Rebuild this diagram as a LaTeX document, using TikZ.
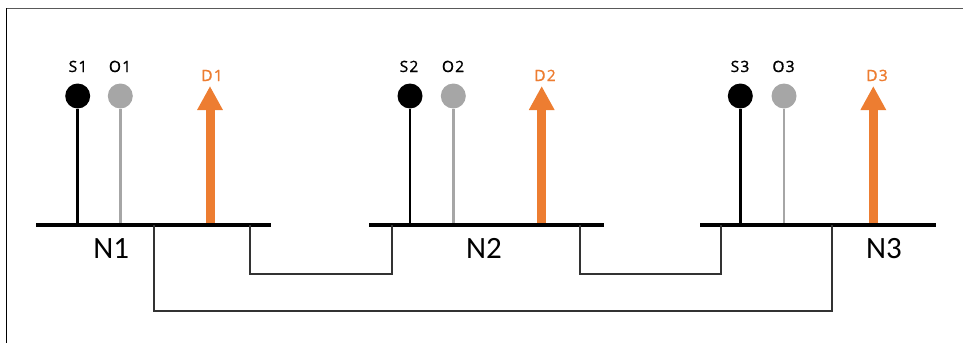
\documentclass[tikz,border=0pt]{standalone}
\usepackage{fontspec}
\setmainfont{Open Sans}
\newfontfamily\tagfont[FakeBold=1.2,LetterSpace=8]{Open Sans}
\newfontfamily\netfont{Carlito}
\usetikzlibrary{arrows.meta}
\definecolor{demand}{HTML}{ED7D31}
\definecolor{other}{HTML}{A6A6A6}
\definecolor{wire}{HTML}{333333}
\definecolor{frameline}{HTML}{595959}

\begin{document}
\begin{tikzpicture}[x=1pt, y=-1pt,
    bus/.style={line width=4.3pt, black},
    pin/.style={circle, minimum size=25pt, inner sep=0pt},
    stem/.style={line width=2.5pt},
    tag/.style={font=\tagfont\fontsize{15.5}{17}\selectfont, inner sep=0pt, anchor=base},
    demandarrow/.style={demand, line width=9pt, -{Triangle[width=24pt,length=24pt]}},
    link/.style={line width=1.7pt, wire},
    netname/.style={font=\netfont\fontsize{31}{34}\selectfont, inner sep=0pt, anchor=base}
]
    \useasboundingbox (0,0) rectangle (963,343);
    % frame
    \draw[line width=1.8pt, frameline] (6,8.5) -- (963,8.5);
    \draw[line width=1.8pt] (6.5,8) -- (6.5,343);

    % N1
    \coordinate (n1w) at (36,225);
    \coordinate (n1e) at (271,225);
    \coordinate (s1b) at (77.7,225);
    \coordinate (o1b) at (120.3,225);
    \coordinate (d1b) at (210,225);
    \coordinate (d1t) at (210,86);
    \node[pin, fill=black] (s1) at (77.7,96) {};
    \node[pin, fill=other] (o1) at (120.3,96) {};
    \draw[stem] (s1b) -- (s1);
    \draw[stem, other] (o1b) -- (o1);
    \draw[demandarrow] (d1b) -- (d1t);
    \draw[bus] (n1w) -- (n1e);
    \node[tag] (s1l) at (78,72) {S1};
    \node[tag] (o1l) at (120,72) {O1};
    \node[tag, demand] (d1l) at (212,81) {D1};
    \node[netname] (n1) at (111.3,258) {N1};

    % N2
    \coordinate (n2w) at (369,225);
    \coordinate (n2e) at (604.3,225);
    \coordinate (s2b) at (410,225);
    \coordinate (o2b) at (453.3,225);
    \coordinate (d2b) at (541.7,225);
    \coordinate (d2t) at (541.7,86);
    \node[pin, fill=black] (s2) at (410,96) {};
    \node[pin, fill=other] (o2) at (453.3,96) {};
    \draw[stem] (s2b) -- (s2);
    \draw[stem, other] (o2b) -- (o2);
    \draw[demandarrow] (d2b) -- (d2t);
    \draw[bus] (n2w) -- (n2e);
    \node[tag] (s2l) at (409,72) {S2};
    \node[tag] (o2l) at (453,72) {O2};
    \node[tag, demand] (d2l) at (545,81) {D2};
    \node[netname] (n2) at (484,258) {N2};

    % N3
    \coordinate (n3w) at (700,225);
    \coordinate (n3e) at (936,225);
    \coordinate (s3b) at (740.3,225);
    \coordinate (o3b) at (784,225);
    \coordinate (d3b) at (873.3,225);
    \coordinate (d3t) at (873.3,86);
    \node[pin, fill=black] (s3) at (740.3,96) {};
    \node[pin, fill=other] (o3) at (784,96) {};
    \draw[stem] (s3b) -- (s3);
    \draw[stem, other] (o3b) -- (o3);
    \draw[demandarrow] (d3b) -- (d3t);
    \draw[bus] (n3w) -- (n3e);
    \node[tag] (s3l) at (740,72) {S3};
    \node[tag] (o3l) at (783.5,72) {O3};
    \node[tag, demand] (d3l) at (877,81) {D3};
    \node[netname] (n3) at (884,258) {N3};

    % links
    \coordinate (l12a) at (250,225);
    \coordinate (l12b) at (391.7,225);
    \coordinate (l23a) at (580,225);
    \coordinate (l23b) at (721,225);
    \coordinate (l13a) at (154,225);
    \coordinate (l13b) at (831.7,225);
    \draw[link] (l12a) -- ++(0,49.3) -| (l12b);
    \draw[link] (l23a) -- ++(0,49.3) -| (l23b);
    \draw[link] (l13a) -- ++(0,85.7) -| (l13b);
\end{tikzpicture}
\end{document}
